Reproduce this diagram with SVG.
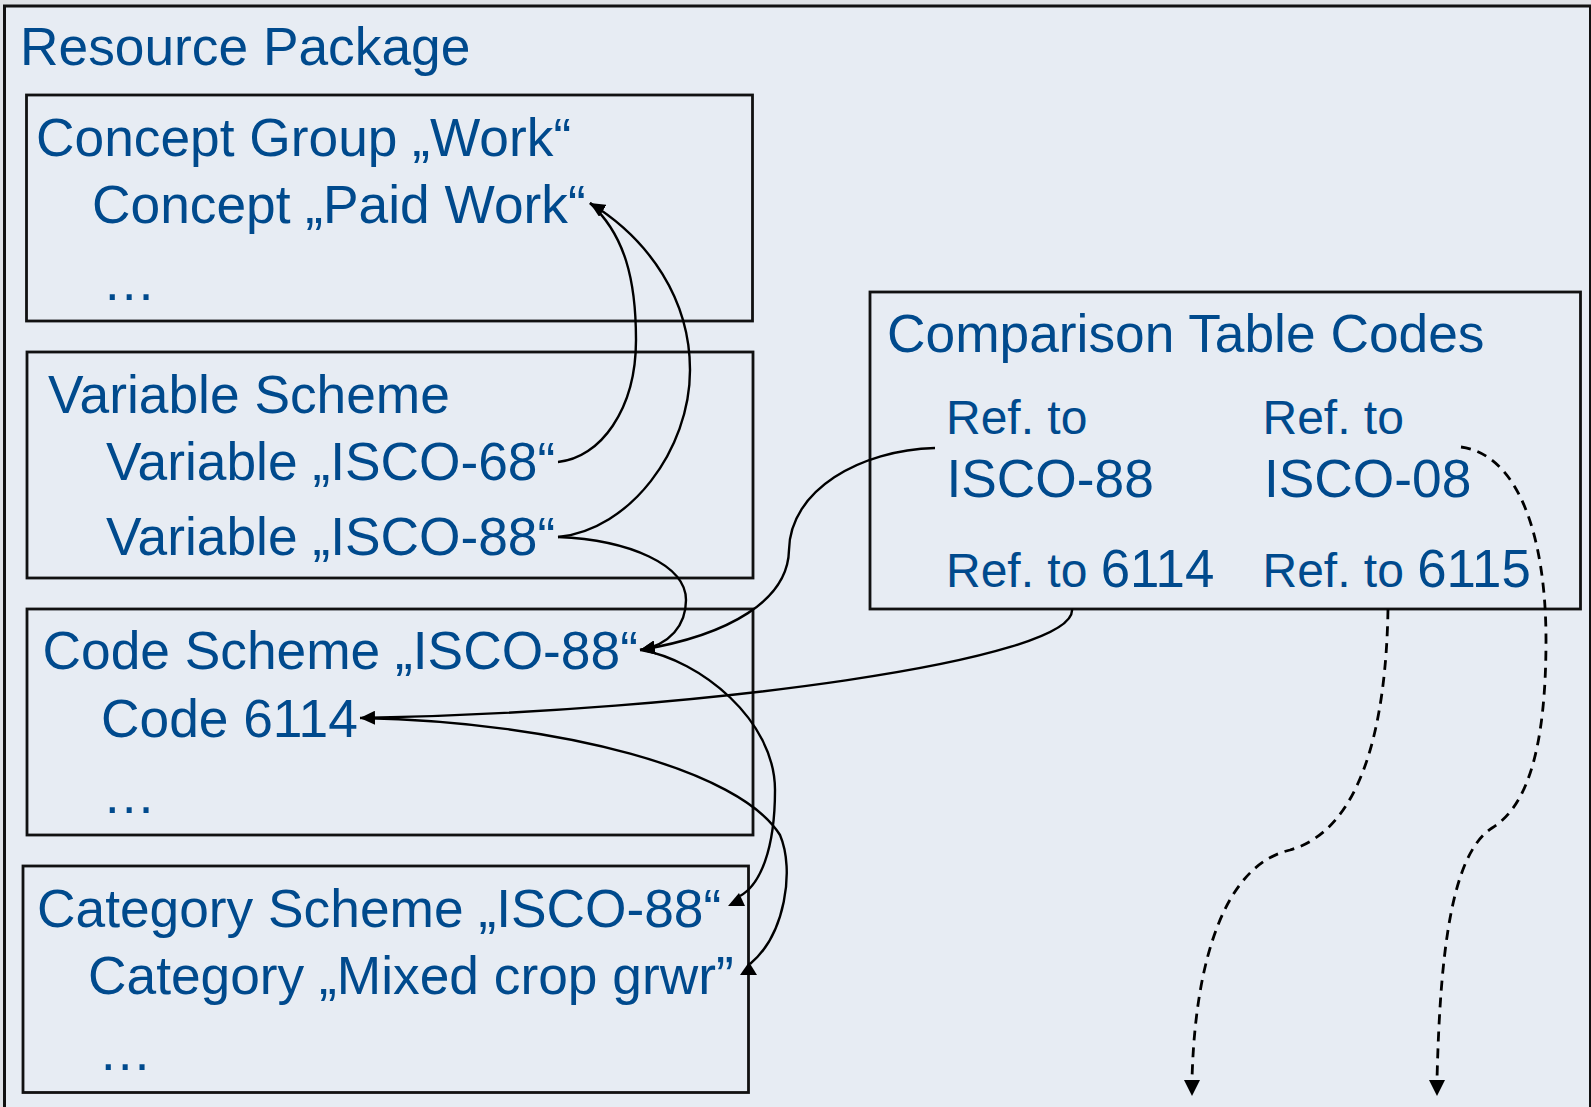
<svg xmlns="http://www.w3.org/2000/svg" width="1591" height="1107" viewBox="0 0 1591 1107">
<defs>
<style>
.bg{fill:#E7ECF3;stroke:#111;stroke-width:3}
.box{fill:none;stroke:#111;stroke-width:2.8}
.t{font-family:"Liberation Sans",Arial,sans-serif;fill:#004A8D;font-size:53.3px}
.s{font-size:48px}
.n{font-size:52.8px}
.c{fill:none;stroke:#000;stroke-width:2.4}
.d{fill:none;stroke:#000;stroke-width:2.8;stroke-dasharray:10 7}
.h{fill:#000;stroke:none}
</style>
<marker id="ah" markerUnits="userSpaceOnUse" markerWidth="16" markerHeight="14" viewBox="0 0 16 14" refX="15" refY="7" orient="auto">
<path d="M0,0 L15,7 L0,14 z" fill="#000"/>
</marker>
</defs>
<rect x="0" y="0" width="1591" height="1107" fill="#DFE2E6"/>
<g id="resource-package">
<rect class="bg" x="4.5" y="6" width="1586" height="1110"/>
<text class="t" x="20" y="65">Resource Package</text>
</g>
<g id="concept-group">
<rect class="box" x="26.5" y="95" width="726" height="226"/>
<text class="t" x="36" y="156">Concept Group „Work“</text>
<text class="t" x="92" y="223">Concept „Paid Work“</text>
<text class="t" x="102.5" y="300">…</text>
</g>
<g id="variable-scheme">
<rect class="box" x="27" y="352" width="726" height="226"/>
<text class="t" x="48" y="413">Variable Scheme</text>
<text class="t" x="106" y="480">Variable „ISCO-68“</text>
<text class="t" x="106" y="555">Variable „ISCO-88“</text>
</g>
<g id="code-scheme">
<rect class="box" x="27" y="609" width="726" height="226"/>
<text class="t" x="42.5" y="669">Code Scheme „ISCO-88“</text>
<text class="t" x="101" y="737">Code 6114</text>
<text class="t" x="102.5" y="813">…</text>
</g>
<g id="category-scheme">
<rect class="box" x="23" y="866" width="725.5" height="226.5"/>
<text class="t" x="37" y="927">Category Scheme „ISCO-88“</text>
<text class="t" x="88" y="994">Category „Mixed crop grwr”</text>
<text class="t" x="98.5" y="1070">…</text>
</g>
<g id="comparison-table">
<rect class="box" x="870" y="292" width="710.5" height="317"/>
<text class="t" x="887" y="352">Comparison Table Codes</text>
<text class="t s" x="946" y="434">Ref. to</text>
<text class="t" x="946.5" y="497">ISCO-88</text>
<text class="t s" x="946" y="587">Ref. to <tspan class="n">6114</tspan></text>
<text class="t s" x="1262.5" y="434">Ref. to</text>
<text class="t" x="1264" y="497">ISCO-08</text>
<text class="t s" x="1262.5" y="587">Ref. to <tspan class="n">6115</tspan></text>
</g>
<g id="connectors">
<path class="c" d="M558 462 C600 458 636 410 636 340 C636 280 625 235 590 203"/>
<path class="c" d="M558 537 C630 530 690 450 690 370 C690 300 650 240 590 203" marker-end="url(#ah)"/>
<path class="c" d="M558 537 C630 540 686 565 686 600 C686 625 670 645 640 650" marker-end="url(#ah)"/>
<path class="c" d="M935 448 C860 450 790 490 789 550 C788 600 730 635 640 650" marker-end="url(#ah)"/>
<path class="c" d="M1072 609 C1078 660 700 712 360 718" marker-end="url(#ah)"/>
<path class="c" d="M641 650 C700 660 775 720 775 790 C775 850 760 885 740 896"/>
<polygon class="h" points="739,893 728,906 745,906"/>
<path class="c" d="M362 718 C560 722 740 770 780 835 C795 870 785 935 750 964"/>
<polygon class="h" points="749,962 740,975 757,975"/>
<path class="d" d="M1388 609 C1386 730 1360 830 1290 850 C1225 865 1195 960 1192 1080"/>
<polygon class="h" points="1184,1080 1200,1080 1192,1096"/>
<path class="d" d="M1461 447 C1520 455 1546 540 1546 640 C1546 740 1530 805 1492 828 C1450 855 1440 960 1437 1080"/>
<polygon class="h" points="1429,1080 1445,1080 1437,1096"/>
</g>
</svg>
